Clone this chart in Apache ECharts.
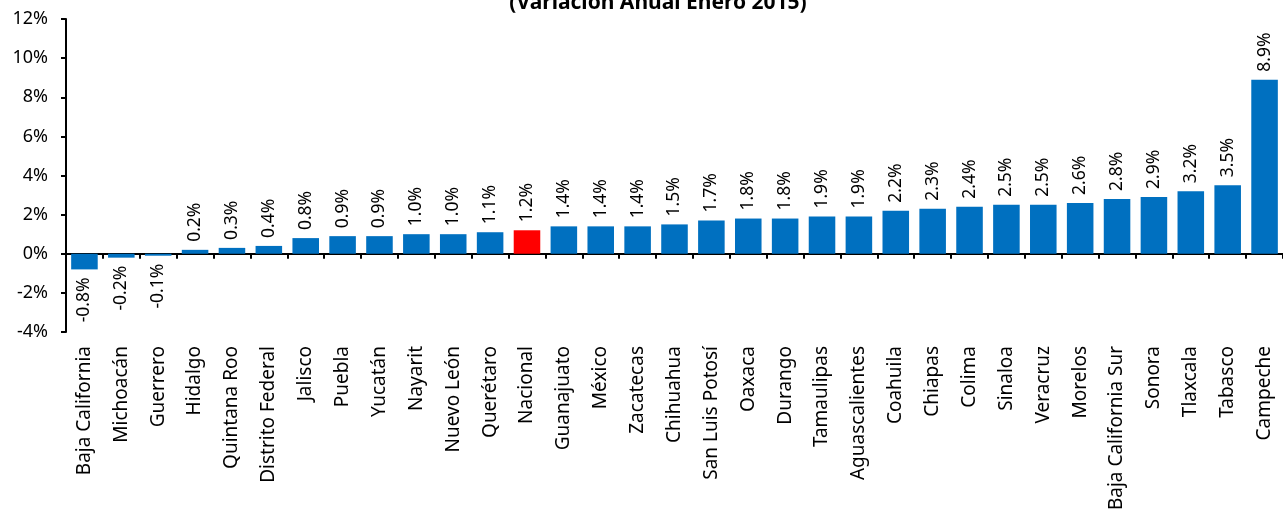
<!DOCTYPE html>
<html lang="es">
<head>
    <meta charset="utf-8">
    <title>Variación Anual Enero 2015</title>
    <script src="https://cdn.jsdelivr.net/npm/echarts@6/dist/echarts.min.js"></script>
    <style>
        html, body { margin: 0; padding: 0; background: #fff; }
        #divChart { width: 1283px; height: 519px; }
    </style>
</head>
<body>
<div id="divChart"></div>

<script>
    var estados = ['Baja California', 'Michoacán', 'Guerrero', 'Hidalgo', 'Quintana Roo', 'Distrito Federal',
        'Jalisco', 'Puebla', 'Yucatán', 'Nayarit', 'Nuevo León', 'Querétaro', 'Nacional', 'Guanajuato',
        'México', 'Zacatecas', 'Chihuahua', 'San Luis Potosí', 'Oaxaca', 'Durango', 'Tamaulipas',
        'Aguascalientes', 'Coahuila', 'Chiapas', 'Colima', 'Sinaloa', 'Veracruz', 'Morelos',
        'Baja California Sur', 'Sonora', 'Tlaxcala', 'Tabasco', 'Campeche'];

    var variacion = [-0.8, -0.2, -0.1, 0.2, 0.3, 0.4, 0.8, 0.9, 0.9, 1.0, 1.0, 1.1, 1.2, 1.4,
        1.4, 1.4, 1.5, 1.7, 1.8, 1.8, 1.9, 1.9, 2.2, 2.3, 2.4, 2.5, 2.5, 2.6, 2.8, 2.9, 3.2, 3.5, 8.9];

    var yTicks = ['-4%', '-2%', '0%', '2%', '4%', '6%', '8%', '10%', '12%'];

    var fontName = 'Noto Sans';

    function loadChart() {
        var myChart = echarts.init(document.getElementById('divChart'));

        var barData = [];
        for (var i = 0; i < variacion.length; i++) {
            var item = {
                value: variacion[i],
                itemStyle: { color: estados[i] === 'Nacional' ? '#ff0000' : '#0070c0' }
            };
            if (variacion[i] < 0) {
                item.label = { position: 'bottom', align: 'right' };
            }
            barData.push(item);
        }

        var option = {
            animation: false,
            title: {
                text: '(Variación Anual Enero 2015)',
                left: 653,
                textAlign: 'center',
                top: -12,
                textStyle: { fontFamily: fontName, fontSize: 21, fontWeight: 'bold', color: '#000' }
            },
            grid: {
                left: 66,
                top: 19,
                bottom: 187,
                width: 1231
            },
            xAxis: [
                {
                    type: 'category',
                    data: estados,
                    position: 'bottom',
                    axisLine: { show: false, onZero: false },
                    axisTick: { show: false },
                    axisLabel: {
                        rotate: 90,
                        interval: 0,
                        margin: 14,
                        fontFamily: fontName,
                        fontSize: 19,
                        color: '#000'
                    }
                },
                {
                    type: 'category',
                    data: estados,
                    position: 'bottom',
                    axisLine: { show: true, onZero: true, lineStyle: { color: '#000', width: 2 } },
                    axisTick: { show: true, interval: 0, length: 5, lineStyle: { color: '#000', width: 2 } },
                    axisLabel: { show: false }
                }
            ],
            yAxis: {
                type: 'value',
                min: -4,
                max: 12,
                interval: 2,
                axisLine: { show: true, lineStyle: { color: '#000', width: 2 } },
                axisTick: { show: true, length: 5, lineStyle: { color: '#000', width: 2 } },
                splitLine: { show: false },
                axisLabel: {
                    margin: 18,
                    fontFamily: fontName,
                    fontSize: 18,
                    color: '#000',
                    formatter: function (v) {
                        return yTicks[Math.round((v + 4) / 2)];
                    }
                }
            },
            series: [
                {
                    type: 'bar',
                    xAxisIndex: 0,
                    data: barData,
                    barCategoryGap: '28%',
                    label: {
                        show: true,
                        position: 'top',
                        rotate: 90,
                        align: 'left',
                        verticalAlign: 'middle',
                        distance: 8,
                        fontFamily: fontName,
                        fontSize: 17.5,
                        color: '#000',
                        formatter: function (p) {
                            return p.value.toFixed(1) + '%';
                        }
                    }
                }
            ]
        };

        myChart.setOption(option);
    }

    loadChart();
</script>
</body>
</html>
